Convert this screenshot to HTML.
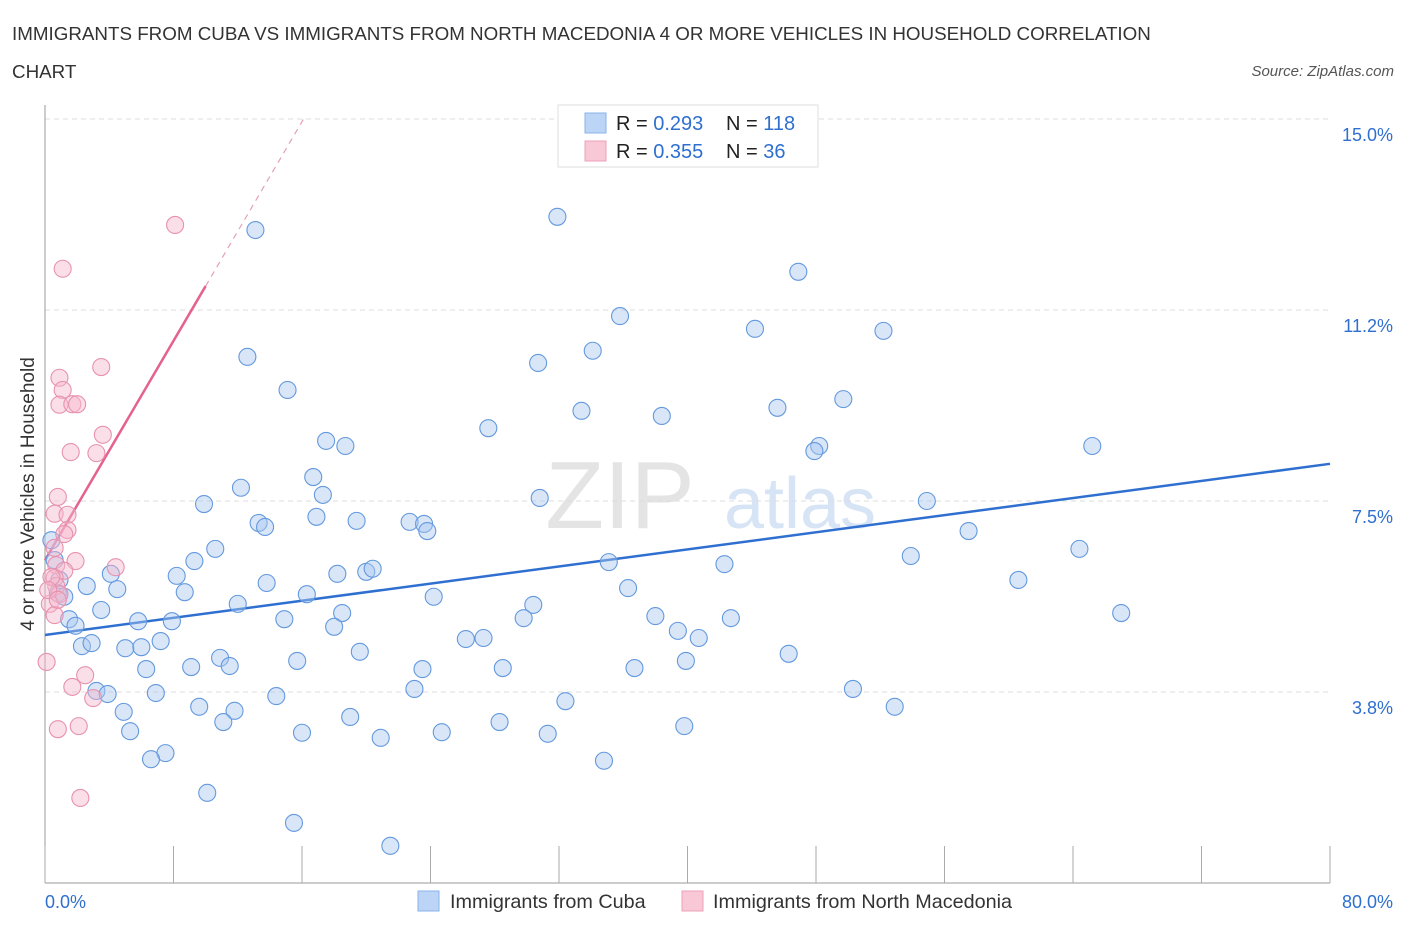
<!DOCTYPE html>
<html><head><meta charset="utf-8"><style>
body{margin:0;background:#fff;font-family:"Liberation Sans",sans-serif;}
svg text{font-family:"Liberation Sans",sans-serif;}
</style></head><body>
<svg id="chart" width="1406" height="930" xmlns="http://www.w3.org/2000/svg">
<text x="12" y="40" font-size="18.8" fill="#333">IMMIGRANTS FROM CUBA VS IMMIGRANTS FROM NORTH MACEDONIA 4 OR MORE VEHICLES IN HOUSEHOLD CORRELATION</text>
<text x="12" y="78" font-size="18.8" fill="#333">CHART</text>
<text x="1394" y="76" font-size="15" fill="#555" font-style="italic" text-anchor="end">Source: ZipAtlas.com</text>
<text x="620" y="528" font-size="96" fill="#e4e4e4" font-family="Liberation Serif" text-anchor="middle">ZIP</text>
<text x="800" y="528" font-size="72" fill="#d6e4f5" text-anchor="middle">atlas</text>
<g id="grid"></g><g id="axes"></g><g id="lines"></g><g id="pts"></g>
<g>
<rect x="558" y="105" width="260" height="62" fill="#fff" stroke="#ddd"/>
<rect x="585" y="113" width="21" height="20" fill="#bcd5f6" stroke="#8ab3ea"/>
<rect x="585" y="141" width="21" height="20" fill="#f9c8d7" stroke="#eea0ba"/>
<text x="616" y="130" font-size="20" fill="#222">R = <tspan fill="#2f6fd0">0.293</tspan></text>
<text x="726" y="130" font-size="20" fill="#222">N = <tspan fill="#2f6fd0">118</tspan></text>
<text x="616" y="158" font-size="20" fill="#222">R = <tspan fill="#2f6fd0">0.355</tspan></text>
<text x="726" y="158" font-size="20" fill="#222">N = <tspan fill="#2f6fd0"> 36</tspan></text>
</g>
<g>
<rect x="418" y="891" width="21" height="20" fill="#bcd5f6" stroke="#8ab3ea"/>
<text x="450" y="908" font-size="19.8" fill="#333">Immigrants from Cuba</text>
<rect x="682" y="891" width="21" height="20" fill="#f9c8d7" stroke="#eea0ba"/>
<text x="713" y="908" font-size="19.8" fill="#333">Immigrants from North Macedonia</text>
</g>
<text transform="translate(34,494) rotate(-90)" font-size="19" fill="#333" text-anchor="middle">4 or more Vehicles in Household</text>
</svg>
<script>
const yTicks=[3.75,7.5,11.25,15];
const yTickLabels=["3.8%","7.5%","11.2%","15.0%"];
const xTickLabels=["0.0%","80.0%"];
const cubaX=[31.9,13.1,46.9,35.8,44.2,52.2,12.6,34.1,30.7,15.1,49.7,33.4,38.4,45.6,27.6,17.5,18.7,48.2,47.9,65.2,12.2,16.7,17.3,9.9,30.8,54.9,16.9,19.4,13.3,13.7,22.7,23.6,23.8,57.5,10.6,9.3,53.9,64.4,35.1,42.3,4.1,8.2,18.2,20.0,20.4,60.6,2.6,4.5,13.8,8.7,16.3,36.3,24.2,0.8,1.2,3.5,12.0,30.4,18.5,67.0,29.8,5.8,7.9,14.9,38.0,42.7,1.5,1.9,18.0,26.2,27.3,39.4,40.7,7.2,2.3,2.9,5.0,6.0,19.6,46.3,10.9,15.7,6.3,9.1,11.5,23.5,28.5,36.7,39.9,3.2,3.9,6.9,14.4,23.0,50.3,32.4,9.6,11.8,4.9,52.9,19.0,11.1,28.3,39.8,5.3,16.0,24.7,31.3,20.9,7.5,6.6,34.8,10.1,15.5,21.5,0.4,0.6,0.9];
const cubaY=[13.08,12.82,12.0,11.13,10.88,10.84,10.33,10.45,10.21,9.68,9.50,9.27,9.17,9.33,8.93,8.68,8.58,8.58,8.48,8.58,7.76,7.97,7.62,7.44,7.56,7.50,7.19,7.11,7.07,6.99,7.09,7.05,6.91,6.91,6.56,6.32,6.42,6.56,6.30,6.26,6.07,6.03,6.07,6.11,6.17,5.95,5.83,5.77,5.89,5.71,5.67,5.79,5.62,5.69,5.62,5.36,5.48,5.46,5.30,5.30,5.20,5.14,5.14,5.18,5.24,5.20,5.18,5.05,5.03,4.79,4.81,4.95,4.81,4.75,4.65,4.71,4.61,4.63,4.54,4.50,4.42,4.36,4.20,4.24,4.26,4.20,4.22,4.22,4.36,3.77,3.71,3.73,3.67,3.81,3.81,3.57,3.46,3.38,3.36,3.46,3.26,3.16,3.16,3.08,2.98,2.95,2.96,2.93,2.85,2.55,2.43,2.40,1.77,1.18,0.73,6.73,6.34,5.95];
const macX=[8.1,1.1,3.5,0.9,1.1,0.9,1.7,2.0,3.6,1.6,3.2,0.8,0.6,1.4,1.4,1.2,1.9,4.4,0.6,0.7,1.2,0.6,0.7,0.9,0.3,0.6,0.1,2.5,1.7,3.0,2.1,0.8,2.2,0.4,0.2,0.8];
const macY=[12.92,12.06,10.13,9.92,9.68,9.39,9.40,9.40,8.80,8.46,8.44,7.58,7.25,7.23,6.93,6.85,6.32,6.20,6.58,6.24,6.13,5.99,5.83,5.67,5.48,5.26,4.34,4.08,3.85,3.63,3.08,3.02,1.67,6.01,5.75,5.56];
const cubaFit=[4.87,8.23]; // y at x=0 and x=80
const macFit=[6.34,0.538]; // intercept, slope
const NS='http://www.w3.org/2000/svg';
const X=v=>45+v/80*1285;
const Y=v=>883-v/15*764;
function mk(t,a,p){const e=document.createElementNS(NS,t);for(const k in a)e.setAttribute(k,a[k]);document.getElementById(p).appendChild(e);return e;}
yTicks.forEach((t,i)=>{
 const l=mk('line',{x1:45,x2:1330,y1:Y(t),y2:Y(t),stroke:'#ddd','stroke-dasharray':'5,4'},'grid');
 
 
 const tx=mk('text',{x:1393,y:Y(t)+22,'font-size':18,fill:'#2f6fd0','text-anchor':'end'},'axes');
 tx.textContent=yTickLabels[i];
 
 
});
const ax=mk('line',{x1:45,x2:45,y1:105,y2:883,stroke:'#999'},'axes');


const bx=mk('line',{x1:45,x2:1330,y1:883,y2:883,stroke:'#999'},'axes');


for(let i=0;i<=10;i++){
 const t=mk('line',{x1:X(i*8),x2:X(i*8),y1:846,y2:883,stroke:'#aaa'},'axes');
 
 
}
[[0,'start',45],[80,'end',1393]].forEach((d,i)=>{
 const t=mk('text',{x:d[2],y:908,'font-size':18,fill:'#2f6fd0','text-anchor':d[1]},'axes');
 t.textContent=xTickLabels[i];
 
 
});
function dot(x,y,f,s,n){const c=mk('circle',{cx:X(x),cy:Y(y),r:8.5,fill:f,'fill-opacity':0.45,stroke:s,'stroke-width':1.1},'pts');
 
 }
cubaX.forEach((x,i)=>dot(x,cubaY[i],'#a9c8f0','#6499de','cuba-point'));
macX.forEach((x,i)=>dot(x,macY[i],'#f6b9cc','#e792ae','macedonia-point'));
const bl=mk('line',{x1:X(0),y1:Y(cubaFit[0]),x2:X(80),y2:Y(cubaFit[1]),stroke:'#2f6fd0','stroke-width':2.5},'lines');


const xs=10, xe=(15-macFit[0])/macFit[1];
const pl=mk('line',{x1:X(0),y1:Y(macFit[0]),x2:X(xs),y2:Y(macFit[0]+macFit[1]*xs),stroke:'#e4628c','stroke-width':2.5},'lines');


const pd=mk('line',{x1:X(xs),y1:Y(macFit[0]+macFit[1]*xs),x2:X(xe),y2:Y(15),stroke:'#e4a0b6','stroke-width':1.2,'stroke-dasharray':'6,5'},'lines');


</script>
</body></html>
